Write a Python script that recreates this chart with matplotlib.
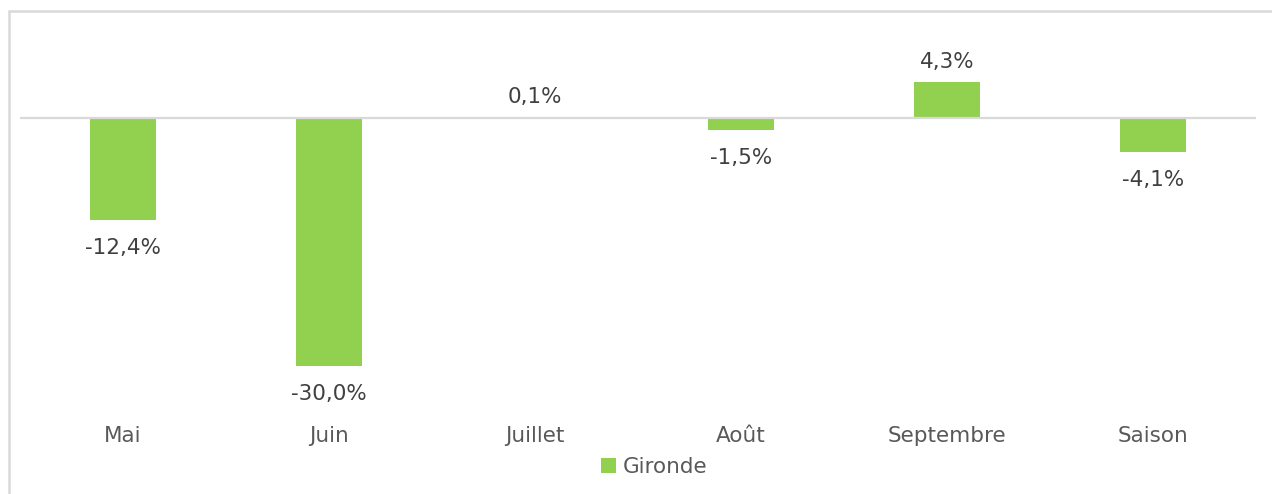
import matplotlib
matplotlib.use("Agg")
import matplotlib.pyplot as plt
from matplotlib.patches import Rectangle

categories = ["Mai", "Juin", "Juillet", "Août", "Septembre", "Saison"]
values = [-12.4, -30.0, 0.1, -1.5, 4.3, -4.1]
labels = ["-12,4%", "-30,0%", "0,1%", "-1,5%", "4,3%", "-4,1%"]
series_name = "Gironde"

W, H = 1272, 494
dpi = 100
fig = plt.figure(figsize=(W / dpi, H / dpi), dpi=dpi)
fig.patch.set_facecolor("white")

ax = fig.add_axes([20 / W, (H - 407) / H, (1256 - 20) / W, (407 - 35) / H])
green = "#92D050"
x = list(range(len(categories)))
bars = ax.bar(x, values, width=0.316, color=green, label=series_name, zorder=2)
ax.set_xlim(-0.5, len(categories) - 0.5)
ax.set_ylim(-35, 10)
ax.axhline(0, color="#D9D9D9", lw=1.6, zorder=3)

for xi, v, lab in zip(x, values, labels):
    if v >= 0:
        ax.annotate(lab, (xi, v), xytext=(0, 7), textcoords="offset points",
                    ha="center", va="bottom", fontsize=15.5, color="#404040")
    else:
        ax.annotate(lab, (xi, v), xytext=(0, -13), textcoords="offset points",
                    ha="center", va="top", fontsize=15.5, color="#404040")

for s in ax.spines.values():
    s.set_visible(False)
ax.set_yticks([])
ax.set_xticks(x)
ax.set_xticklabels(categories, fontsize=15.5, color="#595959")
ax.tick_params(axis="x", length=0, pad=14)

fig.legend(handles=[bars], labels=[series_name], loc="center",
           bbox_to_anchor=(654 / W, (H - 467) / H), frameon=False,
           fontsize=15.5, labelcolor="#595959", handlelength=0.7,
           handleheight=0.7, handletextpad=0.3)

fig.patches.append(Rectangle((9 / W, -0.1), 1.2, (H - 11) / H + 0.1,
                             transform=fig.transFigure, fill=False,
                             edgecolor="#D9D9D9", lw=1.8, zorder=0))

fig.savefig("out.png", dpi=dpi, facecolor="white")
